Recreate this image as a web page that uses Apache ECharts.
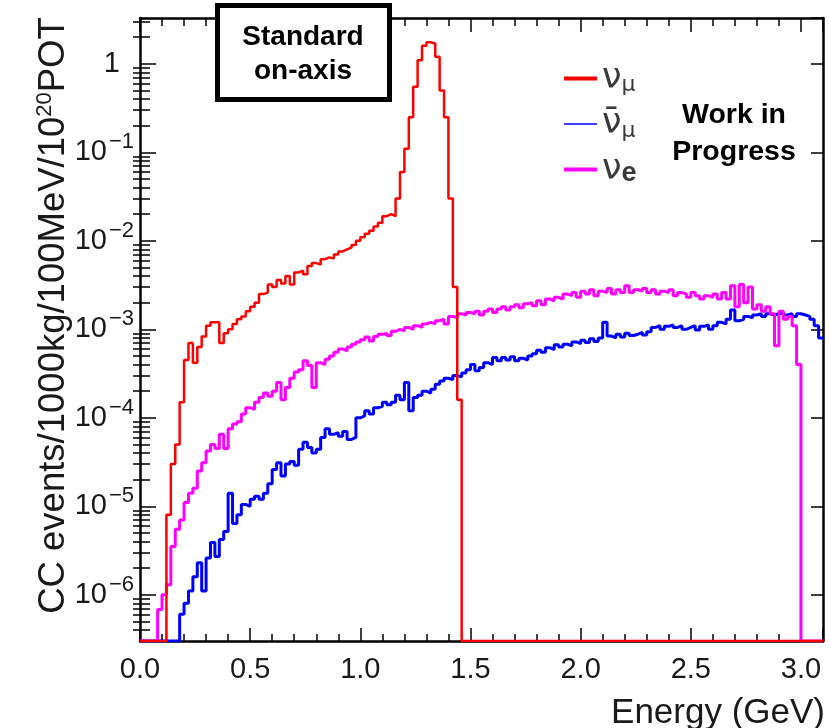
<!DOCTYPE html>
<html><head><meta charset="utf-8">
<script src="https://cdn.jsdelivr.net/npm/echarts@6/dist/echarts.min.js"></script>
<style>html,body{margin:0;padding:0;background:#fff}#c{width:830px;height:728px}</style>
</head><body><div id="c"></div>
<script>
// ---- data (histogram bin contents, bin width 0.02 GeV, left edges 0.00 ... 3.08) ----
const BIN_WIDTH = 0.02;
const X_MIN = 0, X_MAX = 3.1;
const Y_MIN = 3e-7, Y_MAX = 3.3;
const xTickStep = 0.5;
const seriesColors = ['#ff0000', '#0000ff', '#ff00ff'];

const numuValues = [
  0, 0, 0, 0, 0, 0, 8e-6, 3e-5, 5e-5, 1.5e-4,
  4.5e-4, 7e-4, 4.2e-4, 6.3e-4, 8.3e-4, 1.1e-3, 1.2e-3, 1.2e-3, 7e-4, 9e-4,
  1.0e-3, 1.15e-3, 1.3e-3, 1.4e-3, 1.6e-3, 1.8e-3, 2.0e-3, 2.5e-3, 2.6e-3, 3.2e-3,
  3.0e-3, 3.6e-3, 3.3e-3, 4.0e-3, 3.2e-3, 4.4e-3, 4.6e-3, 4.2e-3, 5.2e-3, 5.6e-3,
  5.4e-3, 6.2e-3, 6.5e-3, 6.3e-3, 7.0e-3, 7.6e-3, 8.0e-3, 8.4e-3, 9.0e-3, 1.0e-2,
  1.1e-2, 1.2e-2, 1.3e-2, 1.45e-2, 1.6e-2, 1.9e-2, 2.0e-2, 1.9e-2, 3.0e-2, 6e-2,
  1.1e-1, 2.5e-1, 5.5e-1, 1.1, 1.6, 1.75, 1.7, 1.2, 5e-1, 2.5e-1,
  3e-2, 3e-3, 1.6e-4, 0, 0, 0, 0, 0, 0, 0,
  0, 0, 0, 0, 0, 0, 0, 0, 0, 0,
  0, 0, 0, 0, 0, 0, 0, 0, 0, 0,
  0, 0, 0, 0, 0, 0, 0, 0, 0, 0,
  0, 0, 0, 0, 0, 0, 0, 0, 0, 0,
  0, 0, 0, 0, 0, 0, 0, 0, 0, 0,
  0, 0, 0, 0, 0, 0, 0, 0, 0, 0,
  0, 0, 0, 0, 0, 0, 0, 0, 0, 0,
  0, 0, 0, 0, 0
];
const numubarValues = [
  0, 0, 0, 0, 0, 0, 0, 0, 0, 6e-7,
  8e-7, 1.1e-6, 1.6e-6, 2.3e-6, 1.1e-6, 2.6e-6, 3.9e-6, 2.7e-6, 4.2e-6, 5.2e-6,
  1.4e-5, 6.4e-6, 8e-6, 1.05e-5, 1e-5, 1.2e-5, 1.3e-5, 1.2e-5, 1.4e-5, 1.8e-5,
  2.6e-5, 3.1e-5, 2.2e-5, 3e-5, 3.2e-5, 2.9e-5, 4.4e-5, 5.3e-5, 4.6e-5, 4e-5,
  4.4e-5, 6e-5, 7.5e-5, 6.5e-5, 6.8e-5, 6.2e-5, 7e-5, 5.7e-5, 6e-5, 1e-4,
  1.05e-4, 1.2e-4, 1.1e-4, 1.3e-4, 1.35e-4, 1.5e-4, 1.4e-4, 1.5e-4, 1.8e-4, 1.6e-4,
  2.5e-4, 1.2e-4, 1.7e-4, 1.8e-4, 2.0e-4, 1.9e-4, 2.1e-4, 2.4e-4, 2.6e-4, 2.8e-4,
  2.7e-4, 3e-4, 2.9e-4, 3.2e-4, 3.5e-4, 4e-4, 3.4e-4, 3.7e-4, 4.2e-4, 4e-4,
  4.8e-4, 4.4e-4, 4.8e-4, 4.5e-4, 4.9e-4, 4.4e-4, 4.7e-4, 4.5e-4, 5e-4, 5.3e-4,
  5.8e-4, 5.5e-4, 6.2e-4, 5.9e-4, 6.7e-4, 6.3e-4, 6.8e-4, 6.5e-4, 7.2e-4, 6.9e-4,
  7.5e-4, 7.1e-4, 7.8e-4, 7.3e-4, 8e-4, 1.2e-3, 8.4e-4, 8e-4, 8.8e-4, 8.2e-4,
  9e-4, 8.5e-4, 8.8e-4, 9.2e-4, 8.6e-4, 9.4e-4, 1.05e-3, 1.1e-3, 1.0e-3, 1.08e-3,
  1.12e-3, 1.05e-3, 1.1e-3, 1.0e-3, 1.05e-3, 1.1e-3, 9.8e-4, 1.08e-3, 1.12e-3, 1.0e-3,
  1.1e-3, 1.2e-3, 1.15e-3, 1.3e-3, 1.65e-3, 1.25e-3, 1.3e-3, 1.4e-3, 1.35e-3, 1.45e-3,
  1.5e-3, 1.4e-3, 1.5e-3, 1.45e-3, 1.5e-3, 1.55e-3, 1.45e-3, 1.5e-3, 1.4e-3, 1.5e-3,
  1.45e-3, 1.4e-3, 1.3e-3, 1.1e-3, 8e-4
];
const nueValues = [
  0, 0, 0, 0, 6.8e-7, 1e-6, 1.3e-6, 3.5e-6, 5.5e-6, 7e-6,
  1.1e-5, 1.4e-5, 1.6e-5, 2.5e-5, 3.1e-5, 4.2e-5, 5e-5, 4.5e-5, 6.5e-5, 4.5e-5,
  7.5e-5, 8.5e-5, 9e-5, 1.1e-4, 1.3e-4, 1.25e-4, 1.5e-4, 1.7e-4, 1.9e-4, 1.75e-4,
  2e-4, 2.5e-4, 1.6e-4, 2.2e-4, 2.8e-4, 3.3e-4, 3.5e-4, 4.4e-4, 3.9e-4, 2.2e-4,
  4.2e-4, 4.0e-4, 4.6e-4, 5.0e-4, 5.5e-4, 6e-4, 5.7e-4, 6.3e-4, 6.8e-4, 7.2e-4,
  7.6e-4, 8.2e-4, 7.4e-4, 8.3e-4, 8.8e-4, 9e-4, 8.5e-4, 9.5e-4, 1e-3, 9.6e-4,
  1.05e-3, 1.0e-3, 1.1e-3, 1.05e-3, 1.15e-3, 1.2e-3, 1.15e-3, 1.25e-3, 1.3e-3, 1.15e-3,
  1.4e-3, 1.35e-3, 1.5e-3, 1.45e-3, 1.55e-3, 1.5e-3, 1.6e-3, 1.45e-3, 1.6e-3, 1.7e-3,
  1.55e-3, 1.7e-3, 1.8e-3, 1.65e-3, 1.8e-3, 1.9e-3, 1.75e-3, 1.95e-3, 2.0e-3, 1.85e-3,
  2.1e-3, 1.9e-3, 2.2e-3, 2.1e-3, 2.3e-3, 2.2e-3, 2.5e-3, 2.4e-3, 2.6e-3, 2.3e-3,
  2.7e-3, 2.5e-3, 2.8e-3, 2.4e-3, 2.7e-3, 2.6e-3, 2.9e-3, 2.5e-3, 2.8e-3, 2.6e-3,
  3.1e-3, 2.6e-3, 2.8e-3, 2.7e-3, 2.9e-3, 2.6e-3, 2.8e-3, 2.5e-3, 2.7e-3, 2.6e-3,
  2.8e-3, 2.4e-3, 2.6e-3, 2.5e-3, 2.3e-3, 2.6e-3, 2.4e-3, 2.2e-3, 2.4e-3, 2.3e-3,
  2.5e-3, 2.2e-3, 2.6e-3, 2.2e-3, 3.1e-3, 1.8e-3, 3.2e-3, 2e-3, 3.0e-3, 1.7e-3,
  1.9e-3, 1.6e-3, 1.8e-3, 1.5e-3, 6.5e-4, 1.6e-3, 1.3e-3, 1.4e-3, 1.1e-3, 4e-4,
  0, 0, 0, 0, 0
];

// ---- helpers ----
const FONT = '"Liberation Sans", Arial, Helvetica, sans-serif';
const TEXT_COLOR = '#1a1a1a';

// histogram -> step points at bin left edges; empty bins sit on the frame floor
function toSteps(values) {
  const pts = values.map((v, i) => [+(i * BIN_WIDTH).toFixed(2), v > 0 ? v : Y_MIN]);
  pts.push([X_MAX, pts[pts.length - 1][1]]);
  return pts;
}

// log minor tick values (2..9 x 10^n) inside the y range
const minorYValues = [];
for (let e = Math.floor(Math.log10(Y_MIN)); e <= Math.ceil(Math.log10(Y_MAX)); e++) {
  for (let k = 2; k <= 9; k++) {
    const v = k * Math.pow(10, e);
    if (v > Y_MIN && v < Y_MAX) minorYValues.push(v);
  }
}

const chart = echarts.init(document.getElementById('c'), null, { renderer: 'canvas' });

const yLabelRich = {
  b: { fontSize: 29, lineHeight: 42, fontFamily: FONT, color: TEXT_COLOR },
  s: { fontSize: 22, lineHeight: 22, verticalAlign: 'top', fontFamily: FONT, color: TEXT_COLOR, padding: [0, 0, 0, 2] },
  one: { fontSize: 29, lineHeight: 42, fontFamily: FONT, color: TEXT_COLOR, padding: [0, 14, 0, 0] }
};
function yLabelFormatter(v) {
  const n = Math.round(Math.log10(v));
  if (n === 0) return '{one|1}';
  return '{b|10}{s|\u2212' + (-n) + '}';
}
const legendLabels = {
  numu: '{n|\u03bd}{sub|\u03bc}',
  numubar: '{n|\u03bd\u0304}{sub|\u03bc}',
  nue: '{n|\u03bd}{sube|e}'
};

const tickLineStyle = { color: '#000', width: 1.5 };

function minorTickAxis(position, len) {
  return {
    type: 'log', min: Y_MIN, max: Y_MAX, position: position, offset: 0,
    axisLine: { show: false },
    axisLabel: { show: false },
    splitLine: { show: false },
    axisTick: { show: true, inside: true, length: len, customValues: minorYValues, lineStyle: tickLineStyle }
  };
}

const option = {
  animation: false,
  backgroundColor: '#ffffff',
  grid: { left: 140, right: 7, top: 18, bottom: 87, containLabel: false, outerBoundsMode: 'none' },
  legend: {
    data: [
      { name: 'numu', icon: 'rect' },
      { name: 'numubar', icon: 'path://M0,0h33v0.02h-33z M0,1.2h33v1.6h-33z M0,3.98h33v0.02h-33z' },
      { name: 'nue', icon: 'rect' }
    ],
    orient: 'vertical', left: 559, top: 56, itemWidth: 33, itemHeight: 4, itemGap: 10,
    selectedMode: false,
    formatter: name => legendLabels[name] || name,
    textStyle: {
      color: '#3a3a3a',
      rich: {
        n: { fontSize: 35, lineHeight: 36, fontFamily: '"DejaVu Sans", ' + FONT, color: '#3a3a3a' },
        sub: { fontSize: 22, lineHeight: 22, verticalAlign: 'bottom', fontFamily: '"DejaVu Sans", ' + FONT, color: '#3a3a3a' },
        sube: { fontSize: 27, lineHeight: 26, verticalAlign: 'bottom', fontWeight: 'bold', fontFamily: FONT, color: '#3a3a3a' }
      }
    }
  },
  xAxis: [
    {
      type: 'value', min: X_MIN, max: X_MAX, interval: xTickStep, position: 'bottom',
      axisLine: { show: true, onZero: false, lineStyle: { color: '#000', width: 2.5 } },
      axisTick: { show: true, inside: true, length: 13, lineStyle: tickLineStyle },
      minorTick: { show: true, splitNumber: 5, length: 7, lineStyle: tickLineStyle },
      splitLine: { show: false },
      axisLabel: { show: true, margin: 14, showMaxLabel: false, fontSize: 29, fontFamily: FONT, color: TEXT_COLOR, formatter: v => v.toFixed(1) },
      name: 'Energy (GeV)', nameLocation: 'end', nameGap: 2,
      nameTextStyle: { fontSize: 35, fontFamily: FONT, color: TEXT_COLOR, align: 'right', verticalAlign: 'top', padding: [55, 0, 0, 0] }
    },
    {
      type: 'value', min: X_MIN, max: X_MAX, interval: xTickStep, position: 'top',
      axisLine: { show: true, onZero: false, lineStyle: { color: '#000', width: 2.5 } },
      axisTick: { show: true, inside: true, length: 14, lineStyle: tickLineStyle },
      minorTick: { show: true, splitNumber: 5, length: 8, lineStyle: tickLineStyle },
      splitLine: { show: false }, axisLabel: { show: false }
    }
  ],
  yAxis: [
    {
      type: 'log', min: Y_MIN, max: Y_MAX, position: 'left',
      axisLine: { show: true, onZero: false, lineStyle: { color: '#000', width: 2.5 } },
      axisTick: { show: true, inside: true, length: 16, lineStyle: tickLineStyle },
      splitLine: { show: false },
      axisLabel: { show: true, margin: 6, showMinLabel: false, showMaxLabel: false, formatter: yLabelFormatter, rich: yLabelRich },
      name: '{t|CC events/1000kg/100MeV/10}{s|20}{t|POT}',
      nameLocation: 'middle', nameRotate: 90, nameGap: 66, nameMoveOverlap: false,
      nameTextStyle: {
        padding: [0, 0, 0, 28],
        rich: {
          t: { fontSize: 36.5, lineHeight: 40, fontFamily: FONT, color: TEXT_COLOR },
          s: { fontSize: 22, lineHeight: 22, verticalAlign: 'top', fontFamily: FONT, color: TEXT_COLOR }
        }
      }
    },
    {
      type: 'log', min: Y_MIN, max: Y_MAX, position: 'right',
      axisLine: { show: true, onZero: false, lineStyle: { color: '#000', width: 2.5 } },
      axisTick: { show: true, inside: true, length: 12, lineStyle: tickLineStyle },
      splitLine: { show: false }, axisLabel: { show: false }
    },
    minorTickAxis('left', 10),
    minorTickAxis('right', 7)
  ],
  series: [
    {
      name: 'numubar', type: 'line', step: 'end', data: toSteps(numubarValues),
      symbol: 'none', showSymbol: false, z: 3,
      lineStyle: { color: seriesColors[1], width: 3 }, itemStyle: { color: seriesColors[1] }
    },
    {
      name: 'nue', type: 'line', step: 'end', data: toSteps(nueValues),
      symbol: 'none', showSymbol: false, z: 4,
      lineStyle: { color: seriesColors[2], width: 3 }, itemStyle: { color: seriesColors[2] }
    },
    {
      name: 'numu', type: 'line', step: 'end', data: toSteps(numuValues),
      symbol: 'none', showSymbol: false, z: 5,
      lineStyle: { color: seriesColors[0], width: 2.5 }, itemStyle: { color: seriesColors[0] }
    }
  ],
  graphic: [
    { type: 'rect', z: 100, shape: { x: 217.5, y: 5.5, width: 172, height: 94 }, style: { fill: '#ffffff', stroke: '#000000', lineWidth: 5 } },
    { type: 'text', z: 101, x: 303, y: 54, style: { text: 'Standard\non-axis', fill: '#000', fontSize: 28, fontWeight: 'bold', fontFamily: FONT, align: 'center', verticalAlign: 'middle', lineHeight: 34 } },
    { type: 'text', z: 101, x: 734, y: 134, style: { text: 'Work in\nProgress', fill: '#000', fontSize: 28.5, fontWeight: 'bold', fontFamily: FONT, align: 'center', verticalAlign: 'middle', lineHeight: 37 } }
  ]
};

chart.setOption(option);
</script>
</body></html>
